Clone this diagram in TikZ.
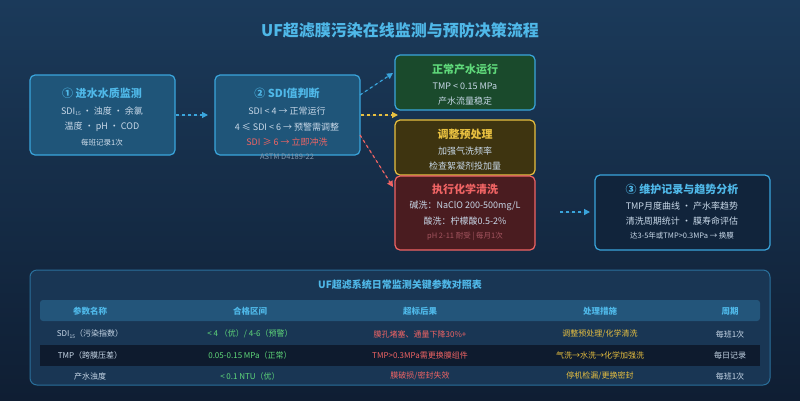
\documentclass[tikz,border=0pt]{standalone}
\usepackage{fontspec}
\setmainfont{Noto Sans CJK SC}
\usetikzlibrary{arrows.meta}
\definecolor{bgA}{HTML}{1B3A5A}\definecolor{bgB}{HTML}{0F1E33}
\definecolor{tblue}{HTML}{4FB8E8}\definecolor{tgray}{HTML}{C8D8E8}
\definecolor{tgreen}{HTML}{5FD87A}\definecolor{tred}{HTML}{F06464}
\definecolor{tyel}{HTML}{E8C040}\definecolor{bord}{HTML}{3AA5DC}
\definecolor{fgreen}{HTML}{1A4A2C}\definecolor{fyel}{HTML}{3E3410}
\definecolor{fred}{HTML}{4A1C20}\definecolor{fblue}{HTML}{1F5579}
\newcommand{\sub}[1]{\raisebox{-0.3ex}{\fontsize{5}{5}\selectfont #1}}
\tikzset{
 box/.style={draw=bord,line width=1.2pt,rounded corners=5pt},
 ttl/.style={font=\fontsize{11}{13}\selectfont\bfseries},
 ln/.style={font=\fontsize{9}{11}\selectfont,text=tgray},
 sm/.style={font=\fontsize{7.5}{9}\selectfont},
 arr/.style={dashed,line width=1.2pt,-{Triangle[length=6pt,width=6pt]}},
 th/.style={font=\fontsize{8.5}{10}\selectfont\bfseries,text=tblue},
 td/.style={font=\fontsize{8}{10}\selectfont},
}
\begin{document}
\begin{tikzpicture}[x=1pt,y=-1pt]
\shade[top color=bgA,bottom color=bgB] (0,0) rectangle (800,400);
\useasboundingbox (0,0) rectangle (800,400);
\node[font=\fontsize{16}{18}\selectfont\bfseries,text=tblue] (title) at (400,30) {UF超滤膜污染在线监测与预防决策流程};
% box1
\draw[box,fill=fblue] (30,75) rectangle (175,155);
\node[ttl,text=tblue] (b1t) at (102,93) {① 进水水质监测};
\node[ln] (b1a) at (102,111) {SDI\sub{15} · 浊度 · 余氯};
\node[ln] (b1b) at (102,127) {温度 · pH · COD};
\node[sm,text=tgray!80] (b1c) at (102,143) {每班记录1次};
\coordinate (b1r) at (176,115);
% box2
\draw[box,fill=fblue] (215,75) rectangle (360,155);
\node[ttl,text=tblue] (b2t) at (287,93) {② SDI值判断};
\node[ln] (b2a) at (287,111) {SDI < 4 → 正常运行};
\node[ln] (b2b) at (287,127) {4 ≤ SDI < 6 → 预警需调整};
\node[ln,text=tred] (b2c) at (287,142) {SDI ≥ 6 → 立即冲洗};
\node[sm,text=tgray!60!bgA] (astm) at (287,157) {ASTM D4189-22};
\coordinate (b2l) at (208,115);
\draw[arr,draw=bord,fill=bord] (b1r) -- (b2l);
% green
\draw[box,fill=fgreen] (395,55) rectangle (535,110);
\node[ttl,text=tgreen] (gt) at (465,69) {正常产水运行};
\node[ln] (ga) at (465,86) {TMP < 0.15 MPa};
\node[ln] (gb) at (465,101) {产水流量稳定};
% yellow
\draw[box,draw=tyel,fill=fyel] (395,120) rectangle (535,175);
\node[ttl,text=tyel] (yt) at (465,134) {调整预处理};
\node[ln] (ya) at (465,151) {加强气洗频率};
\node[ln] (yb) at (465,166) {检查絮凝剂投加量};
% red
\draw[box,draw=tred,fill=fred] (395,176) rectangle (535,250);
\node[ttl,text=tred] (rt) at (465,189) {执行化学清洗};
\node[ln] (ra) at (465,206) {碱洗：NaClO 200-500mg/L};
\node[ln] (rb) at (465,221) {酸洗：柠檬酸0.5-2\%};
\node[sm,text=tred!65!bgA] (rc) at (465,236) {pH 2-11 耐受 | 每月1次};
% arrows from box2
\coordinate (s1) at (360,95); \coordinate (e1) at (393,73);
\coordinate (s2) at (361,115); \coordinate (e2) at (398,115);
\coordinate (s3) at (360,135); \coordinate (e3) at (393,187);
\draw[arr,draw=bord,fill=bord] (s1) -- (e1);
\draw[arr,draw=tyel,fill=tyel] (s2) -- (e2);
\draw[arr,draw=tred,fill=tred] (s3) -- (e3);
% box3
\coordinate (s4) at (560,212); \coordinate (e4) at (590,212);
\draw[arr,draw=bord,fill=bord] (s4) -- (e4);
\draw[box,fill=bgB!80!bgA] (595,175) rectangle (770,250);
\node[ttl,text=tblue] (ct) at (682,189) {③ 维护记录与趋势分析};
\node[ln] (ca) at (682,206) {TMP月度曲线 · 产水率趋势};
\node[ln] (cb) at (682,221) {清洗周期统计 · 膜寿命评估};
\node[sm,text=tgray] (cc) at (682,236) {达3-5年或TMP>0.3MPa → 换膜};
% table
\draw[draw=bord!50!bgA,line width=1pt,fill=bgA!85!bgB,rounded corners=7pt] (30,270) rectangle (770,385);
\node[font=\fontsize{10}{12}\selectfont\bfseries,text=tblue] (tt) at (400,285) {UF超滤系统日常监测关键参数对照表};
\fill[bord!25!bgA,rounded corners=3pt] (40,300) rectangle (760,321);
\fill[bgB!90!black] (40,345) rectangle (760,366);
\node[th] (h1) at (90,311) {参数名称};
\node[th] (h2) at (250,311) {合格区间};
\node[th] (h3) at (420,311) {超标后果};
\node[th] (h4) at (600,311) {处理措施};
\node[th] (h5) at (730,311) {周期};
\node[td,text=tgray] (r11) at (90,334) {SDI\sub{15}（污染指数）};
\node[td,text=tgreen] (r12) at (250,334) {< 4 （优）/ 4-6（预警）};
\node[td,text=tred] (r13) at (420,334) {膜孔堵塞、通量下降30\%+};
\node[td,text=tyel] (r14) at (600,334) {调整预处理/化学清洗};
\node[td,text=tgray] (r15) at (730,334) {每班1次};
\node[td,text=tgray] (r21) at (90,355) {TMP（跨膜压差）};
\node[td,text=tgreen] (r22) at (250,355) {0.05-0.15 MPa（正常）};
\node[td,text=tred] (r23) at (420,355) {TMP>0.3MPa需更换膜组件};
\node[td,text=tyel] (r24) at (600,355) {气洗→水洗→化学加强洗};
\node[td,text=tgray] (r25) at (730,355) {每日记录};
\node[td,text=tgray] (r31) at (90,376) {产水浊度};
\node[td,text=tgreen] (r32) at (250,376) {< 0.1 NTU（优）};
\node[td,text=tred] (r33) at (420,376) {膜破损/密封失效};
\node[td,text=tyel] (r34) at (600,376) {停机检漏/更换密封};
\node[td,text=tgray] (r35) at (730,376) {每班1次};
\end{tikzpicture}
\end{document}
